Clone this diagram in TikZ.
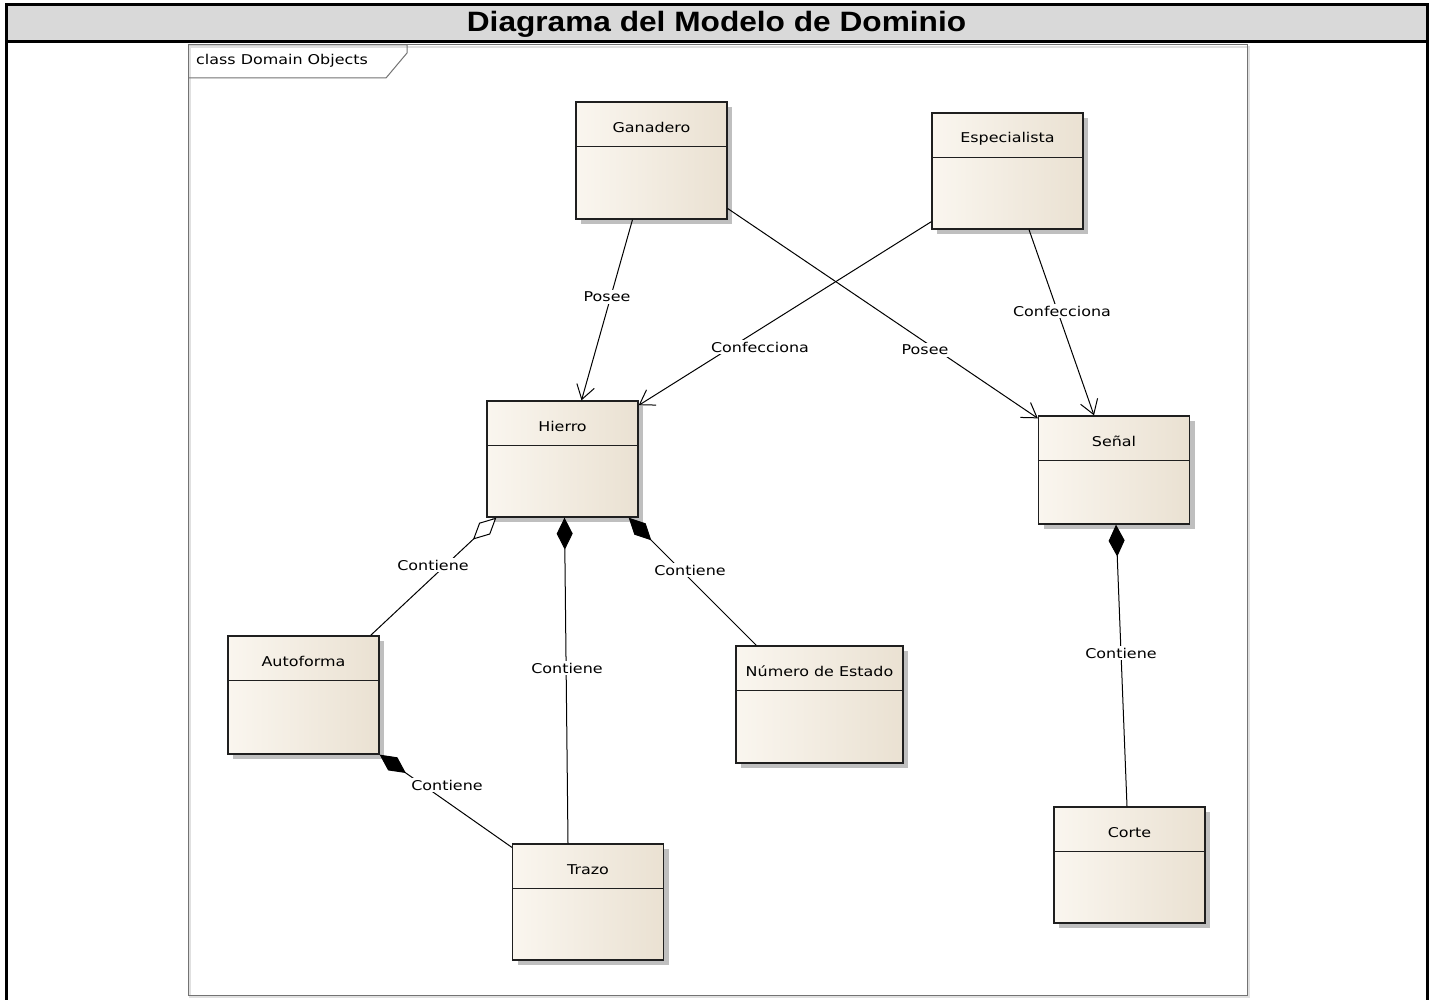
\documentclass[tikz,border=0pt]{standalone}
\usepackage{fontspec}
\setmainfont{DejaVu Sans}
\newfontfamily\titlefont{Liberation Sans}
\usetikzlibrary{arrows.meta,shadows}

\definecolor{clsL}{HTML}{FAF6EF}
\definecolor{clsR}{HTML}{EAE1D2}
\definecolor{barfill}{HTML}{D9D9D9}

% horizontally widened text
\newcommand\wide[1]{\scalebox{1.18}[1]{#1}}

% a UML class box: name, x, y, width, height, title
\newcommand\umlclass[6]{%
  \node[cls, minimum width=#4pt, minimum height=#5pt] (#1) at (#2,#3) {};
  \draw[boxline] ([yshift=-45pt]#1.north west) -- ([yshift=-45pt]#1.north east);
  \node[clsname] (#1-name) at ([yshift=-26pt]#1.north) {\wide{#6}};
}

\begin{document}
\begin{tikzpicture}[x=1pt,y=-1pt,
  boxline/.style={draw=black!88, line width=1.3pt},
  cls/.style={rectangle, draw=black!88, line width=1.3pt, inner sep=0pt,
    left color=clsL, right color=clsR,
    drop shadow={shadow xshift=5pt, shadow yshift=-5pt, fill=black!45, opacity=0.55}},
  clsname/.style={font=\fontsize{13.5}{16}\selectfont, inner sep=0pt},
  lbl/.style={font=\fontsize{13.5}{16}\selectfont, fill=white, inner sep=2pt},
  conn/.style={draw=black, line width=1pt},
  assoc/.style={conn, -{Straight Barb[length=14pt,width=18pt,line width=1pt]}},
  comp/.style={conn, {Diamond[length=32pt,width=16pt]}-},
  aggr/.style={conn, {Diamond[length=32pt,width=16pt,fill=white]}-},
  framec/.style={draw=black!55, line width=1pt}
]
\useasboundingbox (0,0) rectangle (1434,1000);
\fill[white] (0,0) rectangle (1434,1000);

% outer table with title bar
\fill[barfill] (6,5) rectangle (1427,42);
\draw[line width=3pt] (6,1000) -- (6,5) -- (1427,5) -- (1427,1000);
\draw[line width=3pt] (6,42) -- (1427,42);
\node[font=\titlefont\bfseries\fontsize{28}{32}\selectfont, inner sep=0pt] (title) at (716.5,24)
  {\scalebox{1.13}[1]{Diagrama del Modelo de Dominio}};

% diagram frame
\draw[black!12, line width=2pt] (190,47) rectangle (1249,997);
\draw[framec] (188,45) rectangle (1247,995);
\draw[framec] (188,45) -- (407,45) -- (407,53) -- (386,78) -- (188,78);
\node[clsname, anchor=west] (frame-name) at (196,61) {\wide{class Domain Objects}};

% classes
\umlclass{ganadero}{651.5}{160.5}{151}{117}{Ganadero}
\umlclass{especialista}{1007.5}{171}{151}{116}{Especialista}
\umlclass{hierro}{562.5}{459}{151}{116}{Hierro}
\umlclass{senal}{1114}{470}{151}{108}{Señal}
\umlclass{autoforma}{303.5}{695}{151}{118}{Autoforma}
\umlclass{numero}{819.5}{704.5}{167}{117}{Número de Estado}
\umlclass{trazo}{588}{902}{151}{116}{Trazo}
\umlclass{corte}{1129.5}{865}{151}{116}{Corte}

% associations
\draw[assoc] ([xshift=-19pt]ganadero.south) -- ([xshift=19pt]hierro.north);
\draw[assoc] ([yshift=-48pt]ganadero.east) -- ([yshift=-3pt]senal.north west);
\draw[assoc] ([yshift=8pt]especialista.south west) -- ([yshift=-5pt]hierro.north east);
\draw[assoc] ([xshift=21.5pt]especialista.south) -- ([xshift=-20pt]senal.north);

% aggregation and compositions
\draw[aggr] ([xshift=10pt]hierro.south west) -- ([xshift=-9pt]autoforma.north east);
\draw[comp] ([xshift=2pt]hierro.south) -- ([xshift=-20pt]trazo.north);
\draw[comp] ([xshift=-10pt]hierro.south east) -- ([xshift=21pt]numero.north west);
\draw[comp] (autoforma.south east) -- ([yshift=-4pt]trazo.north west);
\draw[comp] ([xshift=2pt]senal.south) -- ([xshift=-2.5pt]corte.north);

% connector labels
\node[lbl] (l-posee-h) at (607,297) {\wide{Posee}};
\node[lbl] (l-posee-s) at (925,350) {\wide{Posee}};
\node[lbl] (l-conf-h) at (760,347) {\wide{Confecciona}};
\node[lbl] (l-conf-s) at (1062,311) {\wide{Confecciona}};
\node[lbl] (l-cont-a) at (433,565) {\wide{Contiene}};
\node[lbl] (l-cont-t) at (567,668) {\wide{Contiene}};
\node[lbl] (l-cont-n) at (690,570) {\wide{Contiene}};
\node[lbl] (l-cont-at) at (447,785) {\wide{Contiene}};
\node[lbl] (l-cont-c) at (1121,653) {\wide{Contiene}};
\end{tikzpicture}
\end{document}
